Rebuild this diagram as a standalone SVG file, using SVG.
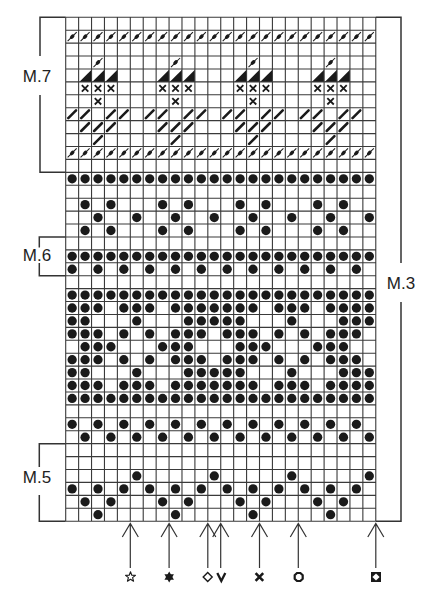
<svg xmlns="http://www.w3.org/2000/svg" width="424" height="600" viewBox="0 0 424 600">
<style>
.lbl{font-family:"Liberation Sans",Arial,sans-serif;font-size:17px;fill:#222;text-anchor:middle}
.br{fill:none;stroke:#333;stroke-width:1.5}
.ar{fill:none;stroke:#333;stroke-width:1.2}
.grid{fill:none;stroke:#3a3a3a;stroke-width:1.1}
</style>
<defs>
<circle id="d" cx=".5" cy=".5" r=".36" fill="#1a1a1a"/>
<g id="dd"><line x1=".15" y1=".85" x2=".85" y2=".15" stroke="#1a1a1a" stroke-width=".08"/><ellipse cx=".5" cy=".5" rx=".21" ry=".14" fill="#1a1a1a" transform="rotate(-45 .5 .5)"/></g>
<polygon id="t" points=".05,1 1,1 1,.05" fill="#1a1a1a"/>
<path id="x" d="M.25 .25L.75 .75M.75 .25L.25 .75" stroke="#1a1a1a" stroke-width=".14" fill="none"/>
<line id="s" x1=".2" y1=".8" x2=".8" y2=".2" stroke="#1a1a1a" stroke-width=".2" stroke-linecap="round"/>
<g id="rA"><use href="#d" x="0"/><use href="#d" x="1"/><use href="#d" x="2"/><use href="#d" x="3"/><use href="#d" x="4"/><use href="#d" x="5"/><use href="#d" x="6"/><use href="#d" x="7"/><use href="#d" x="8"/><use href="#d" x="9"/><use href="#d" x="10"/><use href="#d" x="11"/><use href="#d" x="12"/><use href="#d" x="13"/><use href="#d" x="14"/><use href="#d" x="15"/><use href="#d" x="16"/><use href="#d" x="17"/><use href="#d" x="18"/><use href="#d" x="19"/><use href="#d" x="20"/><use href="#d" x="21"/><use href="#d" x="22"/><use href="#d" x="23"/></g>
<g id="rE"><use href="#d" x="0"/><use href="#d" x="2"/><use href="#d" x="4"/><use href="#d" x="6"/><use href="#d" x="8"/><use href="#d" x="10"/><use href="#d" x="12"/><use href="#d" x="14"/><use href="#d" x="16"/><use href="#d" x="18"/><use href="#d" x="20"/><use href="#d" x="22"/></g>
<g id="rO"><use href="#d" x="1"/><use href="#d" x="3"/><use href="#d" x="5"/><use href="#d" x="7"/><use href="#d" x="9"/><use href="#d" x="11"/><use href="#d" x="13"/><use href="#d" x="15"/><use href="#d" x="17"/><use href="#d" x="19"/><use href="#d" x="21"/><use href="#d" x="23"/></g>
<g id="rQ"><use href="#d" x="1"/><use href="#d" x="3"/><use href="#d" x="7"/><use href="#d" x="9"/><use href="#d" x="13"/><use href="#d" x="15"/><use href="#d" x="19"/><use href="#d" x="21"/></g>
<g id="rP1"><use href="#d" x="0"/><use href="#d" x="1"/><use href="#d" x="2"/><use href="#d" x="4"/><use href="#d" x="5"/><use href="#d" x="6"/><use href="#d" x="8"/><use href="#d" x="9"/><use href="#d" x="10"/><use href="#d" x="11"/><use href="#d" x="12"/><use href="#d" x="13"/><use href="#d" x="14"/><use href="#d" x="16"/><use href="#d" x="17"/><use href="#d" x="18"/><use href="#d" x="20"/><use href="#d" x="21"/><use href="#d" x="22"/><use href="#d" x="23"/></g>
<g id="rP2"><use href="#d" x="0"/><use href="#d" x="1"/><use href="#d" x="5"/><use href="#d" x="9"/><use href="#d" x="10"/><use href="#d" x="11"/><use href="#d" x="12"/><use href="#d" x="13"/><use href="#d" x="17"/><use href="#d" x="21"/><use href="#d" x="22"/><use href="#d" x="23"/></g>
<g id="rP3"><use href="#d" x="0"/><use href="#d" x="1"/><use href="#d" x="2"/><use href="#d" x="4"/><use href="#d" x="6"/><use href="#d" x="8"/><use href="#d" x="9"/><use href="#d" x="10"/><use href="#d" x="12"/><use href="#d" x="13"/><use href="#d" x="14"/><use href="#d" x="16"/><use href="#d" x="18"/><use href="#d" x="20"/><use href="#d" x="21"/><use href="#d" x="22"/></g>
<g id="ddA"><use href="#dd" x="0"/><use href="#dd" x="1"/><use href="#dd" x="2"/><use href="#dd" x="3"/><use href="#dd" x="4"/><use href="#dd" x="5"/><use href="#dd" x="6"/><use href="#dd" x="7"/><use href="#dd" x="8"/><use href="#dd" x="9"/><use href="#dd" x="10"/><use href="#dd" x="11"/><use href="#dd" x="12"/><use href="#dd" x="13"/><use href="#dd" x="14"/><use href="#dd" x="15"/><use href="#dd" x="16"/><use href="#dd" x="17"/><use href="#dd" x="18"/><use href="#dd" x="19"/><use href="#dd" x="20"/><use href="#dd" x="21"/><use href="#dd" x="22"/><use href="#dd" x="23"/></g>
<g id="m7"><use href="#dd" x="2" y="3"/><use href="#t" x="1" y="4"/><use href="#t" x="2" y="4"/><use href="#t" x="3" y="4"/><use href="#x" x="1" y="5"/><use href="#x" x="2" y="5"/><use href="#x" x="3" y="5"/><use href="#x" x="2" y="6"/><use href="#s" x="0" y="7"/><use href="#s" x="1" y="7"/><use href="#s" x="3" y="7"/><use href="#s" x="4" y="7"/><use href="#s" x="1" y="8"/><use href="#s" x="2" y="8"/><use href="#s" x="3" y="8"/><use href="#s" x="2" y="9"/></g>
</defs>
<rect width="424" height="600" fill="#fff"/>
<g id="chart" transform="translate(65.7 17.3) scale(12.92)">
<g id="cells">
<use href="#ddA" y="1"/>
<use href="#m7" x="0"/><use href="#m7" x="6"/><use href="#m7" x="12"/><use href="#m7" x="18"/>
<use href="#ddA" y="10"/>
<use href="#rA" y="12"/>
<use href="#rQ" y="14"/>
<g transform="translate(0 15)"><use href="#d" x="2"/><use href="#d" x="5"/><use href="#d" x="8"/><use href="#d" x="11"/><use href="#d" x="14"/><use href="#d" x="17"/><use href="#d" x="20"/><use href="#d" x="23"/></g>
<use href="#rQ" y="16"/>
<use href="#rA" y="18"/>
<use href="#rE" y="19"/>
<use href="#rA" y="21"/>
<use href="#rP1" y="22"/>
<use href="#rP2" y="23"/>
<use href="#rP3" y="24"/>
<g transform="translate(0 25)"><use href="#d" x="1"/><use href="#d" x="2"/><use href="#d" x="3"/><use href="#d" x="7"/><use href="#d" x="8"/><use href="#d" x="9"/><use href="#d" x="13"/><use href="#d" x="14"/><use href="#d" x="15"/><use href="#d" x="19"/><use href="#d" x="20"/><use href="#d" x="21"/></g>
<use href="#rP3" y="26"/>
<use href="#rP2" y="27"/>
<use href="#rP1" y="28"/>
<use href="#rA" y="29"/>
<use href="#rE" y="31"/>
<use href="#rO" y="32"/>
<g transform="translate(0 35)"><use href="#d" x="5"/><use href="#d" x="11"/><use href="#d" x="17"/><use href="#d" x="23"/></g>
<use href="#rE" y="36"/>
<use href="#rQ" y="37"/>
<g transform="translate(0 38)"><use href="#d" x="2"/><use href="#d" x="8"/><use href="#d" x="14"/><use href="#d" x="20"/></g>
</g>
<path class="grid" vector-effect="non-scaling-stroke" d="M0 0V39M1 0V39M2 0V39M3 0V39M4 0V39M5 0V39M6 0V39M7 0V39M8 0V39M9 0V39M10 0V39M11 0V39M12 0V39M13 0V39M14 0V39M15 0V39M16 0V39M17 0V39M18 0V39M19 0V39M20 0V39M21 0V39M22 0V39M23 0V39M24 0V39M0 0H24M0 1H24M0 2H24M0 3H24M0 4H24M0 5H24M0 6H24M0 7H24M0 8H24M0 9H24M0 10H24M0 11H24M0 12H24M0 13H24M0 14H24M0 15H24M0 16H24M0 17H24M0 18H24M0 19H24M0 20H24M0 21H24M0 22H24M0 23H24M0 24H24M0 25H24M0 26H24M0 27H24M0 28H24M0 29H24M0 30H24M0 31H24M0 32H24M0 33H24M0 34H24M0 35H24M0 36H24M0 37H24M0 38H24M0 39H24"/>
</g>
<g id="m7-bracket"><path class="br" d="M65.7 17.3H40V56M40 95V172.3H65.7"/><text class="lbl" x="37" y="82">M.7</text></g>
<g id="m6-bracket"><path class="br" d="M65.7 236.9H39.3V247.5M39.3 263V275.7H65.7"/><text class="lbl" x="37" y="261">M.6</text></g>
<g id="m5-bracket"><path class="br" d="M65.7 443.7H39.3V467M39.3 495V521.2H65.7"/><text class="lbl" x="37" y="483">M.5</text></g>
<g id="m3-bracket"><path class="br" d="M375.8 17.3H401V263M401 302V521.2H375.8"/><text class="lbl" x="401" y="289">M.3</text></g>
<g id="connectors">
<path class="ar" d="M130.3 523.5V568M122.3 537L130.3 523.5L138.3 537"/>
<path class="ar" d="M169.1 523.5V568M161.1 537L169.1 523.5L177.1 537"/>
<path class="ar" d="M207.8 523.5V568M199.8 537L207.8 523.5L215.8 537"/>
<path class="ar" d="M220.7 523.5V568M212.7 537L220.7 523.5L228.7 537"/>
<path class="ar" d="M259.5 523.5V568M251.5 537L259.5 523.5L267.5 537"/>
<path class="ar" d="M298.3 523.5V568M290.3 537L298.3 523.5L306.3 537"/>
<path class="ar" d="M375.8 523.5V568M367.8 537L375.8 523.5L383.8 537"/>
</g>
<g id="sym-star"><polygon transform="translate(130.5 577)" points="0,-5.2 1.29,-1.78 4.95,-1.61 2.09,0.68 3.06,4.21 0,2.2 -3.06,4.21 -2.09,0.68 -4.95,-1.61 -1.29,-1.78" fill="none" stroke="#1a1a1a" stroke-width="1.1" stroke-linejoin="round"/></g>
<g id="sym-hexstar" transform="translate(169.2 577)" fill="#1a1a1a"><polygon points="0,-5.5 4.76,2.75 -4.76,2.75"/><polygon points="0,5.5 4.76,-2.75 -4.76,-2.75"/></g>
<g id="sym-diamond"><polygon transform="translate(207.7 577)" points="0,-4.5 4.5,0 0,4.5 -4.5,0" fill="#fff" stroke="#1a1a1a" stroke-width="1.4"/></g>
<g id="sym-v"><polyline transform="translate(221.3 577)" points="-4,-4 0,4 4,-4" fill="none" stroke="#1a1a1a" stroke-width="2.3"/></g>
<g id="sym-x"><path transform="translate(259.4 577)" d="M-3.8 -3.8L3.8 3.8M3.8 -3.8L-3.8 3.8" stroke="#1a1a1a" stroke-width="2.6"/></g>
<g id="sym-oct"><polygon transform="translate(298.7 577)" points="-1.7,-4 1.7,-4 4,-1.7 4,1.7 1.7,4 -1.7,4 -4,1.7 -4,-1.7" fill="#fff" stroke="#1a1a1a" stroke-width="2.2"/></g>
<g id="sym-sqdiamond" transform="translate(376 577)"><rect x="-5" y="-5" width="10" height="10" fill="#1a1a1a"/><polygon points="0,-3.6 3.6,0 0,3.6 -3.6,0" fill="#fff"/></g>
</svg>
